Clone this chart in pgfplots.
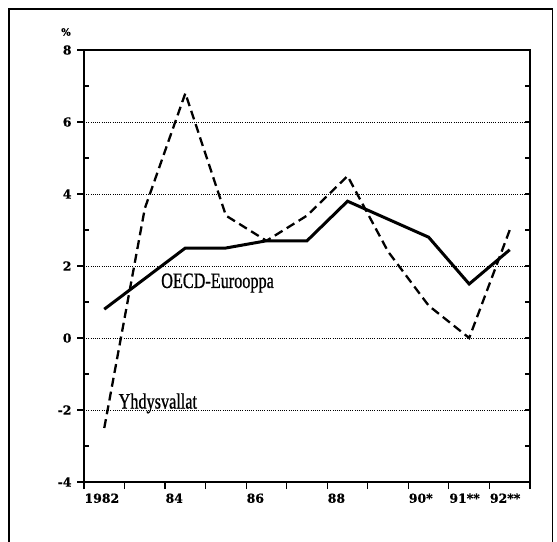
\documentclass[border=0pt]{standalone}
\usepackage{fontspec}
\setmainfont{Liberation Serif}
\newfontfamily\tickfont[FakeBold=0.6]{DejaVu Serif}
\newfontfamily\condfont[FakeStretch=0.74,FakeBold=0.8]{Liberation Serif}
\usepackage{pgfplots}
\pgfplotsset{compat=1.18}
\pgfplotstableread{
x y
1982.5 0.8
1983.5 1.65
1984.5 2.5
1985.5 2.5
1986.5 2.7
1987.5 2.7
1988.5 3.8
1989.5 3.3
1990.5 2.8
1991.5 1.5
1992.5 2.45
}\oecd
\pgfplotstableread{
x y
1982.5 -2.5
1983.5 3.6
1984.5 6.8
1985.5 3.4
1986.5 2.7
1987.5 3.4
1988.5 4.5
1989.5 2.4
1990.5 0.9
1991.5 0.0
1992.5 3.0
}\usa
\begin{document}
\begin{tikzpicture}
\path[use as bounding box] (-84bp,-60bp) rectangle (473bp,482bp);
\draw[line width=1.5bp] (-75bp,-62bp) -- (-75bp,473bp) -- (468.7bp,473bp) -- (468.7bp,-62bp);
\begin{axis}[
  at={(0,0)}, anchor=south west,
  scale only axis, width=446bp, height=432bp,
  xmin=1982, xmax=1993, ymin=-4, ymax=8,
  axis line style={line width=1.3bp},
  tick style={line width=1.2bp, black},
  xtick={1982,...,1993},
  xticklabels={1982,,84,,86,,88,,90*,91**,92**,},
  xtick pos=bottom, ytick pos=left,
  tick align=outside,
  major tick length=7bp,
  xticklabel style={anchor=north west, xshift=-3bp, yshift=-1bp},
  ytick={-4,-2,...,8},
  yticklabel style={xshift=-2bp},
  extra y ticks={-3,-1,1,3,5,7},
  extra y tick labels={},
  extra y tick style={tick align=inside, major tick length=5bp, grid=none},
  ymajorgrids,
  major grid style={dash pattern=on 1bp off 1.2bp, line width=1bp, black},
  ticklabel style={font=\tickfont\bfseries\fontsize{12.5}{14}\selectfont},
  /pgf/number format/assume math mode=true,
  clip=false,
]
\addplot[black, line width=3bp] table[x=x,y=y] {\oecd};
\addplot[black, line width=2.3bp, dash pattern=on 9bp off 5bp] table[x=x,y=y] {\usa};
\node[anchor=base west, inner sep=0pt, font=\condfont\fontsize{22}{24}\selectfont] at (axis cs:1983.9,1.39) {OECD-Eurooppa};
\node[anchor=base west, inner sep=0pt, font=\condfont\fontsize{22}{24}\selectfont] at (axis cs:1982.85,-1.96) {Yhdysvallat};
\node[inner sep=0pt, font=\tickfont\bfseries\fontsize{10}{11}\selectfont] at ([xshift=-18bp,yshift=18bp]rel axis cs:0,1) {\%};
\end{axis}
\begin{axis}[
  at={(0,0)}, anchor=south west,
  scale only axis, width=446bp, height=432bp,
  xmin=1982, xmax=1993, ymin=-4, ymax=8,
  axis x line=none, axis y line*=right,
  axis line style={line width=1.3bp},
  ytick={-3,...,7}, yticklabels={},
  tick align=inside, major tick length=5bp,
  tick style={line width=1.2bp, black},
]
\end{axis}
\end{tikzpicture}
\end{document}
